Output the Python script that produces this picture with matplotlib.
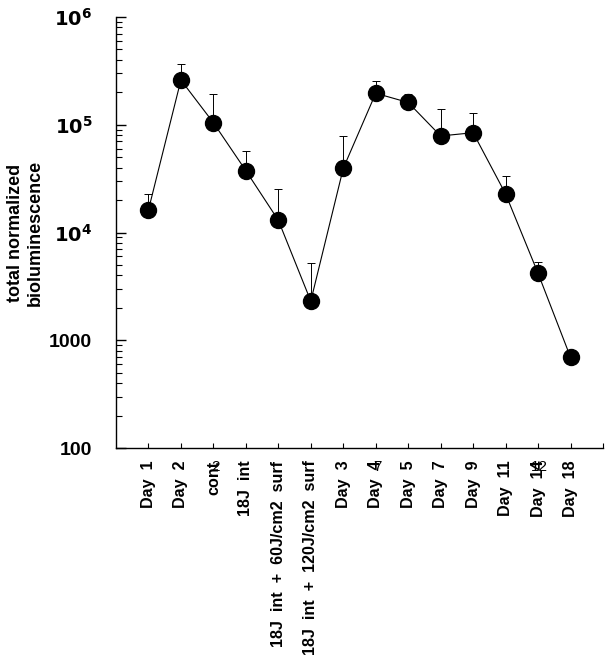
import numpy as np
import matplotlib.pyplot as plt

plt.rcParams['font.family'] = ['Liberation Sans', 'DejaVu Sans']

# ---------- data ----------
labels = ["Day  1", "Day  2", "cont", "18J  int",
          "18J  int  +  60J/cm2  surf", "18J  int  +  120J/cm2  surf",
          "Day  3", "Day  4", "Day  5", "Day  7", "Day  9",
          "Day  11", "Day  14", "Day  18"]
values = [16200, 260000, 104500, 37500, 13000, 2310,
          39400, 196000, 161000, 78700, 84400, 22800, 4180, 695]
upper = [22700, 366000, 194000, 57400, 25200, 5210,
         78700, 253000, 194000, 140000, 128500, 33400, 5320, 695]

x = np.arange(1, len(values) + 1)
yerr_up = np.array(upper) - np.array(values)
yerr = [np.zeros_like(yerr_up), yerr_up]

# ---------- plot ----------
fig = plt.figure(figsize=(6.12, 6.67), dpi=100)
ax = fig.add_axes([0.1895, 0.3283, 0.7958, 0.6462])

ax.errorbar(x, values, yerr=yerr, fmt="none", ecolor="black",
            elinewidth=0.7, capsize=3, capthick=0.7)
ax.plot(x, values, "-", color="black", lw=0.8,
        marker="o", markersize=11.5, markerfacecolor="black",
        markeredgecolor="black")

ax.set_yscale("log")
ax.set_ylim(100, 1e6)
ax.set_xlim(0, 15)

ax.set_yticks([100, 1000, 1e4, 1e5, 1e6])
ax.set_yticklabels(["100", "1000", r"$\mathbf{10^4}$", r"$\mathbf{10^5}$",
                    r"$\mathbf{10^6}$"], fontsize=14, fontweight="bold")
ax.tick_params(axis="y", which="major", direction="in", length=7, width=1,
               pad=17)
ax.tick_params(axis="y", which="minor", direction="in", length=4, width=0.8)

ax.set_xticks(np.arange(1, 16))
ax.set_xticklabels(labels + [""], rotation=90, fontsize=11.6,
                   fontweight="bold", va="top", ha="center")
ax.set_xticks([3, 8, 13], minor=True)
ax.tick_params(axis="x", which="major", direction="in", length=3.5,
               width=0.8, pad=9)
ax.tick_params(axis="x", which="minor", direction="in", length=7, width=0.8)

for s in ["top", "right"]:
    ax.spines[s].set_visible(False)
for s in ["left", "bottom"]:
    ax.spines[s].set_linewidth(1.0)

ax.set_ylabel("total normalized\nbioluminescence", fontsize=13,
              fontweight="bold", labelpad=4)

# stray overlaid numbers on the axis labels
for xx, txt in [(3, "2"), (8, "7"), (13, "12")]:
    ax.text(xx + 0.05, -0.045, txt, transform=ax.get_xaxis_transform(),
            ha="center", va="center", fontsize=11)

fig.savefig("out.png", dpi=100)
